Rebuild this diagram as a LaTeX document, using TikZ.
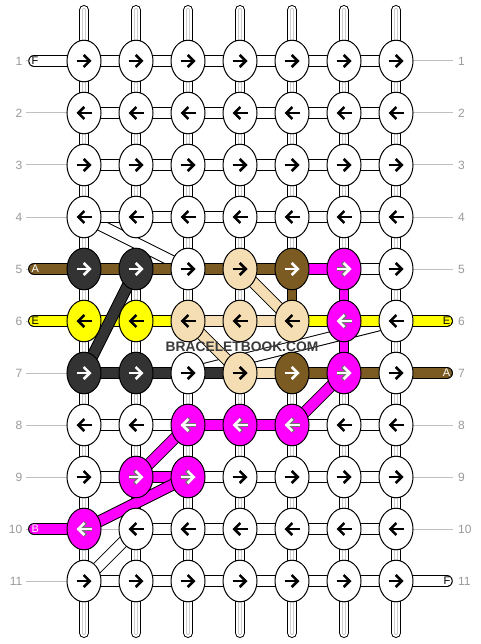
\documentclass[tikz,border=0pt]{standalone}
\usepackage{fontspec}
\setmainfont{Liberation Sans}
\usetikzlibrary{shapes.geometric,arrows.meta}
\definecolor{cdark}{HTML}{333333}
\definecolor{cbrown}{HTML}{7B5B22}
\definecolor{cyel}{HTML}{FFFF00}
\definecolor{cbeige}{HTML}{F5DEB3}
\definecolor{cmag}{HTML}{FF00FF}
\definecolor{cgrid}{HTML}{C0C0C0}
\definecolor{cinner}{HTML}{CCCCCC}
\definecolor{clab}{HTML}{9A9A9A}
\definecolor{ctext}{HTML}{3A3A3A}
\colorlet{fW}{white}\colorlet{aW}{black}\colorlet{oW}{white}
\colorlet{fD}{cdark}\colorlet{aD}{white}\colorlet{oD}{cdark}
\colorlet{fY}{cyel}\colorlet{aY}{black}\colorlet{oY}{cyel}
\colorlet{fG}{cbeige}\colorlet{aG}{black}\colorlet{oG}{cbeige}
\colorlet{fN}{cbrown}\colorlet{aN}{white}\colorlet{oN}{cbrown}
\colorlet{fM}{cmag}\colorlet{aM}{white}\colorlet{oM}{black!55}
\pgfdeclarelayer{bg}
\pgfdeclarelayer{mid}
\pgfsetlayers{bg,mid,main}
\begin{document}
\begin{tikzpicture}[x=1pt,y={(0pt,-1pt)},
  knot/.style={ellipse, draw=black, line width=1pt, minimum width=34pt, minimum height=41.6pt, inner sep=0pt},
  band/.style={draw=black, line width=1pt, double=#1, double distance=10pt},
  hW/.style={band=white, double distance=9.5pt},
  hN/.style={band=cbrown}, hM/.style={band=cmag}, hY/.style={band=cyel},
  hG/.style={band=cbeige}, hD/.style={band=cdark}, hX/.style={},
  vW/.style={draw=black, line width=1pt, double=white, double distance=8pt,
    postaction={draw=cinner, line width=0.8pt, double=white, double distance=2.4pt}},
  vN/.style={draw=black, line width=1pt, double=cbrown, double distance=8pt},
  vM/.style={draw=black, line width=1pt, double=cmag, double distance=8pt},
  vX/.style={},
  rowlab/.style={text=clab, font=\fontsize{12}{12}\selectfont, inner sep=0pt},
  stublab/.style={font=\fontsize{11}{11}\selectfont, inner sep=0pt},
  wmtext/.style={font=\bfseries\fontsize{13.8}{14}\selectfont, inner sep=0pt}
]
\useasboundingbox (0,0) rectangle (480,644);

% knots
\foreach \r/\cols in {1/{W,W,W,W,W,W,W},2/{W,W,W,W,W,W,W},3/{W,W,W,W,W,W,W},
  4/{W,W,W,W,W,W,W},5/{D,D,W,G,N,M,W},6/{Y,Y,G,G,G,M,W},7/{D,D,W,G,N,M,W},
  8/{W,W,M,M,M,W,W},9/{W,M,M,W,W,W,W},10/{M,W,W,W,W,W,W},11/{W,W,W,W,W,W,W}}{
  \pgfmathsetmacro\yy{61+52*(\r-1)}
  \pgfmathsetmacro\dd{ifthenelse(mod(\r,2)==1,1,-1)}
  \foreach \col [count=\c] in \cols {
    \pgfmathsetmacro\xx{84+52*(\c-1)}
    \node[knot, fill=f\col] (n-\r-\c) at (\xx,\yy) {};
    \draw[line width=3.8pt, o\col, -{Straight Barb[length=6.5pt,width=13pt]}] (\xx-7.5*\dd,\yy) -- (\xx+7.5*\dd,\yy);
    \draw[line width=2.5pt, a\col, -{Straight Barb[length=6pt,width=12pt]}] (\xx-7.5*\dd,\yy) -- (\xx+7.5*\dd,\yy);
  }
}

% watermark
\node[wmtext, text=ctext] (wm) at (242,347) {BRACELETBOOK.COM};

\begin{pgfonlayer}{bg}
  \fill[white] (0,0) rectangle (480,644);
  % row guide lines and numbers
  \foreach \r in {1,...,11}{
    \pgfmathsetmacro\yy{61+52*(\r-1)}
    \coordinate (gl-\r) at (26,\yy);
    \coordinate (gr-\r) at (453,\yy);
    \draw[cgrid, line width=1pt] (gl-\r) -- (gr-\r);
    \node[rowlab, anchor=east] (ln-\r) at (22.5,\yy) {\r};
    \node[rowlab, anchor=west] (rn-\r) at (458,\yy) {\r};
  }
  % white diagonal threads
  \path[band=white] (n-4-1.center) -- (n-5-3.center);
  \path[band=white] (n-6-7.center) -- (n-7-3.center);
  \path[band=white] (n-10-2.center) -- (n-11-1.center);
  % vertical connectors
  \foreach \r/\cols in {1/{W,W,W,W,W,W,W},2/{W,W,W,W,W,W,W},3/{W,W,W,W,W,W,W},
    4/{W,X,W,W,W,W,W},5/{W,W,W,W,N,M,W},6/{W,W,X,X,X,M,W},7/{W,W,W,W,W,W,W},
    8/{W,W,W,W,W,W,W},9/{W,W,W,W,W,W,W},10/{W,W,W,W,W,W,W}}{
    \pgfmathtruncatemacro\rn{\r+1}
    \foreach \col [count=\c] in \cols {
      \path[v\col] (n-\r-\c.center) -- (n-\rn-\c.center);
    }
  }
  % horizontal connectors
  \foreach \r/\cols in {1/{W,W,W,W,W,W},2/{W,W,W,W,W,W},3/{W,W,W,W,W,W},
    4/{W,W,W,W,W,W},5/{N,N,N,N,M,W},6/{Y,Y,G,G,Y,Y},7/{D,D,D,G,N,N},
    8/{W,W,M,M,W,W},9/{W,M,W,W,W,W},10/{X,W,W,W,W,W},11/{W,W,W,W,W,W}}{
    \foreach \col [count=\c] in \cols {
      \pgfmathtruncatemacro\cn{\c+1}
      \path[h\col] (n-\r-\c.center) -- (n-\r-\cn.center);
    }
  }
  % top and bottom thread ends
  \foreach \c in {1,...,7}{
    \pgfmathsetmacro\xx{84+52*(\c-1)}
    \coordinate (t-\c) at (\xx,10);
    \coordinate (b-\c) at (\xx,633);
    \path[vW, line cap=round] (t-\c) -- (n-1-\c.center);
    \path[vW, line cap=round] (b-\c) -- (n-11-\c.center);
  }
  % side thread ends with letters
  \foreach \r/\col/\lab/\lc in {1/W/F/black,5/N/A/white,6/Y/E/black,10/M/B/white}{
    \pgfmathsetmacro\yy{61+52*(\r-1)}
    \coordinate (sl-\r) at (34,\yy);
    \path[h\col, line cap=round] (sl-\r) -- (n-\r-1.center);
    \node[stublab, text=\lc, anchor=west] (sll-\r) at (31.5,\yy) {\lab};
  }
  \foreach \r/\col/\lab/\lc in {6/Y/E/black,7/N/A/white,11/W/F/black}{
    \pgfmathsetmacro\yy{61+52*(\r-1)}
    \coordinate (sr-\r) at (447,\yy);
    \path[h\col, line cap=round] (sr-\r) -- (n-\r-7.center);
    \node[stublab, text=\lc, anchor=east] (srl-\r) at (450.5,\yy) {\lab};
  }
\end{pgfonlayer}

\begin{pgfonlayer}{mid}
  \path[band=cdark] (n-5-2.center) -- (n-7-1.center);
  \path[band=cbeige] (n-5-4.center) -- (n-6-5.center);
  \path[band=cbeige] (n-6-3.center) -- (n-7-4.center);
  \path[band=cmag] (n-7-6.center) -- (n-8-5.center);
  \path[band=cmag] (n-8-3.center) -- (n-9-2.center);
  \path[band=cmag] (n-9-3.center) -- (n-10-1.center);
\end{pgfonlayer}
\end{tikzpicture}
\end{document}
